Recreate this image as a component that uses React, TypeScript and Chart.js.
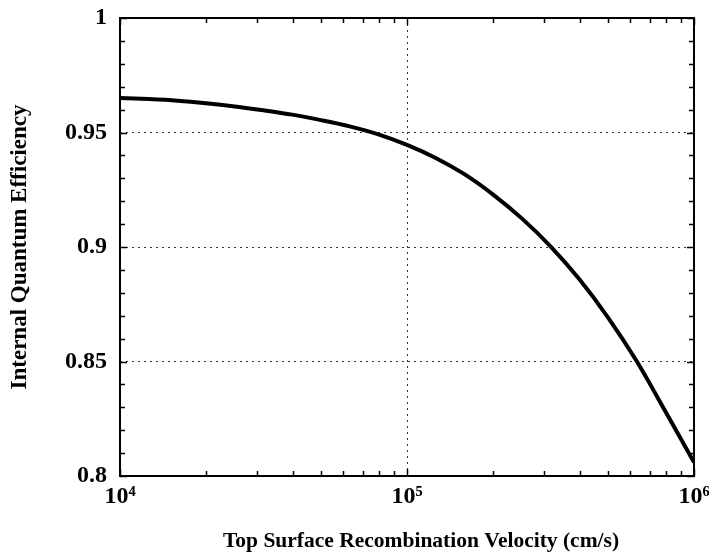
import { useEffect, useRef } from "react";
import { Chart, registerables } from "chart.js";

Chart.register(...registerables);

// Data
const VELOCITY = [
  10000, 12589, 15849, 19953, 25119, 31623, 39811, 50119, 63096, 79433,
  100000, 125893, 158489, 199526, 251189, 316228, 398107, 501187, 630957, 794328, 1000000,
];
const IQE = [
  0.9651, 0.9646, 0.9639, 0.9628, 0.9614, 0.9597, 0.9578, 0.9554, 0.9527, 0.9492,
  0.9446, 0.9389, 0.9318, 0.9229, 0.9125, 0.9003, 0.886, 0.8693, 0.8502, 0.8283, 0.806,
];

const X_TICKS = [10000, 100000, 1000000];
const X_TICK_LABELS = ["10\u2074", "10\u2075", "10\u2076"];
const X_MINOR = [
  20000, 30000, 40000, 50000, 60000, 70000, 80000, 90000,
  200000, 300000, 400000, 500000, 600000, 700000, 800000, 900000,
];
const X_GRID = [100000];

const Y_TICKS = [0.8, 0.85, 0.9, 0.95, 1];
const Y_TICK_LABELS = ["0.8", "0.85", "0.9", "0.95", "1"];
const Y_MINOR = [
  0.81, 0.82, 0.83, 0.84, 0.86, 0.87, 0.88, 0.89, 0.91, 0.92, 0.93, 0.94,
  0.96, 0.97, 0.98, 0.99,
];
const Y_GRID = [0.85, 0.9, 0.95];

const X_TITLE = "Top Surface Recombination Velocity (cm/s)";
const Y_TITLE = "Internal Quantum Efficiency";

const FONT = '"Liberation Serif", "Times New Roman", serif';

const near = (a: number, b: number) => Math.abs(a - b) < 1e-6 * Math.max(1, Math.abs(b));

const framePlugin = {
  id: "frame",
  afterDraw(chart: any) {
    const { ctx, chartArea: a, scales } = chart;
    const xs = scales.x;
    const ys = scales.y;
    ctx.save();
    ctx.strokeStyle = "#000";
    ctx.lineWidth = 1.5;
    ctx.beginPath();
    const xTick = (v: number, len: number) => {
      const px = Math.round(xs.getPixelForValue(v)) + 0.5;
      ctx.moveTo(px, a.bottom);
      ctx.lineTo(px, a.bottom - len);
      ctx.moveTo(px, a.top);
      ctx.lineTo(px, a.top + len);
    };
    const yTick = (v: number, len: number) => {
      const py = Math.round(ys.getPixelForValue(v)) + 0.5;
      ctx.moveTo(a.left, py);
      ctx.lineTo(a.left + len, py);
      ctx.moveTo(a.right, py);
      ctx.lineTo(a.right - len, py);
    };
    X_TICKS.forEach((v) => xTick(v, 7));
    X_MINOR.forEach((v) => xTick(v, 5));
    Y_TICKS.forEach((v) => yTick(v, 7));
    Y_MINOR.forEach((v) => yTick(v, 5));
    ctx.stroke();
    ctx.lineWidth = 2;
    ctx.strokeRect(a.left, a.top, a.right - a.left, a.bottom - a.top);
    ctx.fillStyle = "#000";
    ctx.font = `bold 21.5px ${FONT}`;
    ctx.textAlign = "center";
    ctx.textBaseline = "middle";
    ctx.fillText(X_TITLE, (a.left + a.right) / 2 + 14, 541);
    ctx.restore();
  },
};

export default function App() {
  const ref = useRef<HTMLCanvasElement>(null);
  useEffect(() => {
    const canvas = ref.current;
    if (!canvas) return;
    const chart = new Chart(canvas, {
      type: "line",
      data: {
        datasets: [
          {
            data: VELOCITY.map((v, i) => ({ x: v, y: IQE[i] })),
            borderColor: "#000",
            borderWidth: 4,
            pointRadius: 0,
            tension: 0.3,
            fill: false,
          },
        ],
      },
      options: {
        animation: false,
        responsive: false,
        devicePixelRatio: 1,
        layout: { padding: { top: 18, right: 15, left: 0, bottom: 0 } },
        plugins: { legend: { display: false }, tooltip: { enabled: false } },
        scales: {
          x: {
            type: "logarithmic",
            min: 10000,
            max: 1000000,
            afterBuildTicks: (s: any) => {
              s.ticks = X_TICKS.map((v) => ({ value: v }));
            },
            afterFit: (s: any) => {
              s.height = 80;
              s.paddingLeft = 0;
              s.paddingRight = 0;
            },
            ticks: {
              autoSkip: false,
              maxRotation: 0,
              padding: 6,
              color: "#000",
              font: { family: FONT, size: 24, weight: "bold" },
              callback: (v: any) => {
                const i = X_TICKS.findIndex((t) => near(t, Number(v)));
                return i >= 0 ? X_TICK_LABELS[i] : "";
              },
            },
            grid: {
              drawTicks: false,
              lineWidth: 1,
              color: (c: any) =>
                c.tick && X_GRID.some((g) => near(g, c.tick.value)) ? "#333" : "rgba(0,0,0,0)",
            },
            border: { display: false, dash: [2, 4] },
          },
          y: {
            type: "linear",
            min: 0.8,
            max: 1,
            afterBuildTicks: (s: any) => {
              s.ticks = Y_TICKS.map((v) => ({ value: v }));
            },
            afterFit: (s: any) => {
              s.width = 120;
              s.paddingTop = 0;
              s.paddingBottom = 0;
            },
            ticks: {
              autoSkip: false,
              padding: 13,
              color: "#000",
              font: { family: FONT, size: 24, weight: "bold" },
              callback: (v: any) => {
                const i = Y_TICKS.findIndex((t) => near(t, Number(v)));
                return i >= 0 ? Y_TICK_LABELS[i] : "";
              },
            },
            grid: {
              drawTicks: false,
              lineWidth: 1,
              color: (c: any) =>
                c.tick && Y_GRID.some((g) => near(g, c.tick.value)) ? "#333" : "rgba(0,0,0,0)",
            },
            border: { display: false, dash: [2, 4] },
            title: {
              display: true,
              text: Y_TITLE,
              color: "#000",
              font: { family: FONT, size: 23, weight: "bold" },
              padding: { top: 6, bottom: 0 },
            },
          },
        },
      },
      plugins: [framePlugin],
    });
    return () => chart.destroy();
  }, []);
  return (
    <div style={{ position: "fixed", left: 0, top: 0, width: 709, height: 556, background: "#fff" }}>
      <canvas ref={ref} width={709} height={556} style={{ display: "block" }} />
    </div>
  );
}
